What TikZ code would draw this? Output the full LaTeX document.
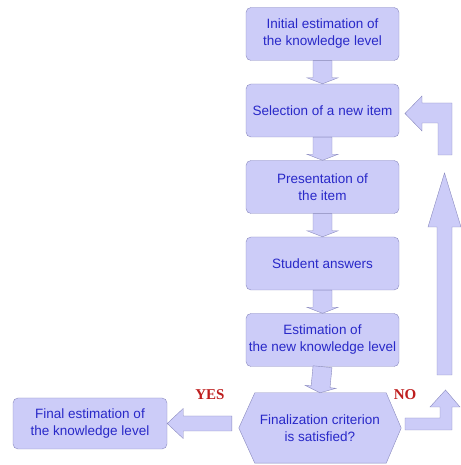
\documentclass[tikz,border=0pt]{standalone}
\usepackage{fontspec}
\newfontfamily\boxfont{Liberation Sans}
\newfontfamily\labfont{Liberation Serif}
\usetikzlibrary{calc}
\definecolor{boxfill}{RGB}{204,204,248}
\definecolor{boxline}{RGB}{138,138,190}
\definecolor{boxtext}{RGB}{40,40,200}
\definecolor{labred}{RGB}{190,30,30}
\begin{document}
\begin{tikzpicture}[x=1pt,y=1pt,
    box/.style={draw=boxline,fill=boxfill,rounded corners=5pt,minimum width=153pt,minimum height=53pt,
      align=center,text=boxtext,inner sep=2pt,font=\boxfont\fontsize{13.5}{17}\selectfont},
    blk/.style={draw=boxline,fill=boxfill,line join=miter},
    fat/.style args={#1/#2/#3}{to path={
      ($(\tikztostart)!#1!90:(\tikztotarget)$) --
      ($(\tikztotarget)!#3!(\tikztostart)!#1!-90:(\tikztostart)$) --
      ($(\tikztotarget)!#3!(\tikztostart)!#2!-90:(\tikztostart)$) --
      (\tikztotarget) --
      ($(\tikztotarget)!#3!(\tikztostart)!#2!90:(\tikztostart)$) --
      ($(\tikztotarget)!#3!(\tikztostart)!#1!90:(\tikztostart)$) --
      ($(\tikztostart)!#1!-90:(\tikztotarget)$) -- cycle}},
    answer/.style={text=labred,font=\labfont\bfseries\fontsize{15}{18}\selectfont}]
  \useasboundingbox (0,0) rectangle (460,465);
  \foreach \n/\y/\txt in {b1/431/{Initial estimation of\\the knowledge level},
      b2/354.5/{Selection of a new item},
      b3/278/{Presentation of\\the item},
      b4/201.5/{Student answers},
      b5/125/{Estimation of\\the new knowledge level}} {
    \node[box] (\n) at (322.5,\y) {\txt};
  }
  \node[minimum width=162pt,minimum height=70pt,inner sep=0pt] (hex) at (320,37) {};
  \draw[blk] ([xshift=16pt]hex.north west) -- ([xshift=-15pt]hex.north east) -- (hex.east)
    -- ([xshift=-15pt]hex.south east) -- ([xshift=16pt]hex.south west) -- (hex.west) -- cycle;
  \node[box,draw=none,fill=none] (hextxt) at (hex) {Finalization criterion\\is satisfied?};
  \node[box,minimum width=154pt,minimum height=51pt] (fin) at (90,41.5) {Final estimation of\\the knowledge level};
  \foreach \a/\b in {b1/b2,b2/b3,b3/b4,b4/b5,b5/hex}
    \draw[blk] (\a.south) to[fat=9.5pt/15.5pt/6pt] (\b.north);
  \coordinate (yes0) at ($(hex.west |- fin.east)+(-7,0)$);
  \draw[blk] (yes0) to[fat=7.5pt/15pt/16pt] (fin.east);
  \draw[blk] (405,47) -- (440,47) -- (440,58) -- (430,58) -- (445.5,75) -- (460,58) -- (452,58)
    -- (452,35) -- (405,35) -- cycle;
  \coordinate (up0) at (444.5,90);
  \coordinate (up1) at (444.5,292);
  \draw[blk] (up0) to[fat=7.5pt/16.5pt/54pt] (up1);
  \draw[blk] (405,351.5) -- (422,369) -- (422,362) -- (452,362) -- (452,310) -- (438,310)
    -- (438,342) -- (422,342) -- (422,334) -- cycle;
  \node[answer] (yes) at (210,70) {YES};
  \node[answer] (no) at (405,70) {NO};
\end{tikzpicture}
\end{document}
